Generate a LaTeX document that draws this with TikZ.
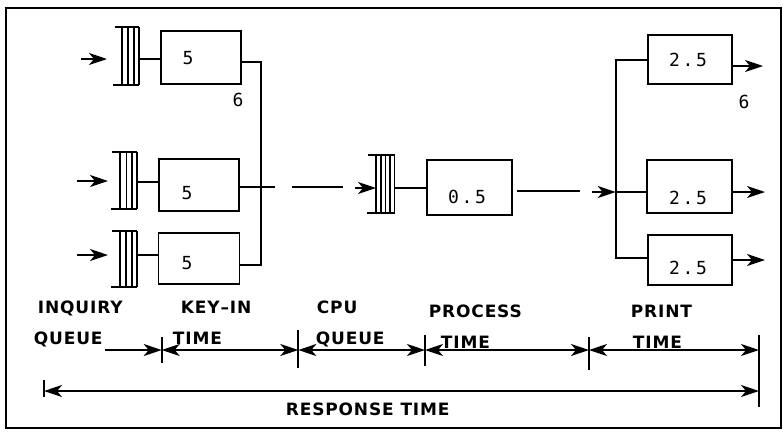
\documentclass[tikz,border=0pt]{standalone}
\usepackage{fontspec}
\usetikzlibrary{arrows.meta,calc}
\newfontfamily\labfont[LetterSpace=5]{DejaVu Sans Bold}
\newfontfamily\numfont[LetterSpace=15]{DejaVu Sans Mono}
\begin{document}
\begin{tikzpicture}[x=1pt,y=-1pt,line width=1.8pt,
  box/.style={draw,rectangle,inner sep=0pt},
  lab/.style={anchor=base west,inner sep=0pt,font=\labfont\fontsize{17}{17}\selectfont},
  num/.style={inner sep=0pt,font=\numfont\fontsize{18}{18}\selectfont},
  arr/.style={-{Stealth[length=18pt,width=12pt,inset=5pt]}},
  darr/.style={{Stealth[length=18pt,width=12pt,inset=5pt]}-{Stealth[length=18pt,width=12pt,inset=5pt]}}]
\useasboundingbox (0,0) rectangle (783,432);
\draw[line width=2pt] (6,8) rectangle (781,428);

% key-in boxes
\node[box,minimum width=80pt,minimum height=53pt] (k1) at (201,57.5) {};
\node[box,minimum width=80pt,minimum height=52pt] (k2) at (199,185) {};
\node[box,minimum width=81pt,minimum height=51pt] (k3) at (199,258.5) {};
\node[num] (k1l) at (188,58) {5};
\node[num] (k2l) at (187,193) {5};
\node[num] (k3l) at (187,263) {5};
\node[num] (six1) at (238,100) {6};

% CPU box
\node[box,minimum width=85pt,minimum height=55pt] (cpu) at (469.5,187.5) {};
\node[num] (cpul) at (467,197) {0.5};

% print boxes
\node[box,minimum width=84pt,minimum height=49pt] (p1) at (690,59.5) {};
\node[box,minimum width=85pt,minimum height=53pt] (p2) at (689.5,186.5) {};
\node[box,minimum width=84pt,minimum height=50pt] (p3) at (690,260) {};
\node[num] (p1l) at (688,60) {2.5};
\node[num] (p2l) at (688,198) {2.5};
\node[num] (p3l) at (688,268) {2.5};
\node[num] (six2) at (744,102) {6};

% inquiry queues
\draw (115,27) -- (139,27) (113,85) -- (139,85);
\foreach \x in {122,128,134,139} \draw (\x,27) -- (\x,85);
\draw (112,152) -- (137,152) (111,209) -- (137,209);
\foreach \x in {120,126.5,132,137} \draw (\x,152) -- (\x,209);
\draw (112,231) -- (137,231) (111,287) -- (137,287);
\foreach \x in {120,126,132,137} \draw (\x,231) -- (\x,287);
% cpu queue
\draw (368,155) -- (395,155) (367,213) -- (395,213);
\foreach \x in {376,381,385.5,390,394.5} \draw (\x,155) -- (\x,213);

\coordinate (q1) at (139,59);
\coordinate (q2) at (137,182);
\coordinate (q3) at (137,255);
\coordinate (qc) at (395,188);
\coordinate (in1) at (81,59);   \coordinate (in1e) at (107,59);
\coordinate (in2) at (77,181);  \coordinate (in2e) at (108,181);
\coordinate (in3) at (77,255);  \coordinate (in3e) at (108,255);

\draw[arr] (in1) -- (in1e);
\draw[arr] (in2) -- (in2e);
\draw[arr] (in3) -- (in3e);
\draw (q1) -- (q1 -| k1.west);
\draw (q2) -- (q2 -| k2.west);
\draw (q3) -- (q3 -| k3.west);

% merge of key-in
\coordinate (m1) at (261,62);
\coordinate (m3) at (261,265);
\draw (m1 -| k1.east) -- (m1) -- (m3) -- (m3 -| k3.east);
\coordinate (d1) at (275,187);
\coordinate (d2a) at (292,187); \coordinate (d2b) at (343,187);
\coordinate (d3a) at (355,188); \coordinate (d3b) at (376,188);
\draw (d1 -| k2.east) -- (d1);
\draw (d2a) -- (d2b);
\draw[arr] (d3a) -- (d3b);
\draw (qc) -- (qc -| cpu.west);

% cpu out
\coordinate (c1a) at (517,191); \coordinate (c1b) at (580,191);
\coordinate (c2a) at (592,192); \coordinate (sp) at (615.7,192);
\draw (c1a) -- (c1b);
\draw[arr] (c2a) -- (sp);
\coordinate (st) at (615.7,60);
\coordinate (sb) at (615.7,258);
\draw (st -| p1.west) -- (st) -- (sb) -- (sb -| p3.west);
\draw (sp) -- (sp -| p2.west);

% print outputs
\coordinate (o1) at (763,66);
\coordinate (o2) at (765,192);
\coordinate (o3) at (765,260);
\draw[arr] (o1 -| p1.east) -- (o1);
\draw[arr] (o2 -| p2.east) -- (o2);
\draw[arr] (o3 -| p3.east) -- (o3);

% labels
\node[lab] (l1) at (37,313) {INQUIRY};
\node[lab] (l2) at (180,313) {KEY–IN};
\node[lab] (l3) at (316,313) {CPU};
\node[lab] (l4) at (428,317) {PROCESS};
\node[lab] (l5) at (630,317) {PRINT};
\node[lab] (l6) at (33,344) {QUEUE};
\node[lab] (l7) at (172,344) {TIME};
\node[lab] (l8) at (315,344) {QUEUE};
\node[lab] (l9) at (440,348) {TIME};
\node[lab] (l10) at (632,348) {TIME};
\node[lab] (l11) at (285,415) {RESPONSE TIME};

% timeline
\coordinate (s0) at (105,350);
\coordinate (t1) at (161.7,350);
\coordinate (t2) at (298.3,350);
\coordinate (t3) at (425,350);
\coordinate (t4) at (589,350);
\coordinate (t5) at (759,350);
\draw[arr] (s0) -- (t1);
\draw[darr] (t1) -- (t2);
\draw[darr] (t2) -- (t3);
\draw[darr] (t3) -- (t4);
\draw[darr] (t4) -- (t5);
\draw (161.7,337) -- (161.7,363);
\draw (298.3,330) -- (298.3,368);
\draw (425,335) -- (425,366);
\draw (589,337) -- (589,370);
\draw (759,335) -- (759,407);
\coordinate (r0) at (44,391);
\coordinate (r1) at (759,391);
\draw[darr] (r0) -- (r1);
\draw (44,380) -- (44,397);
\end{tikzpicture}
\end{document}
